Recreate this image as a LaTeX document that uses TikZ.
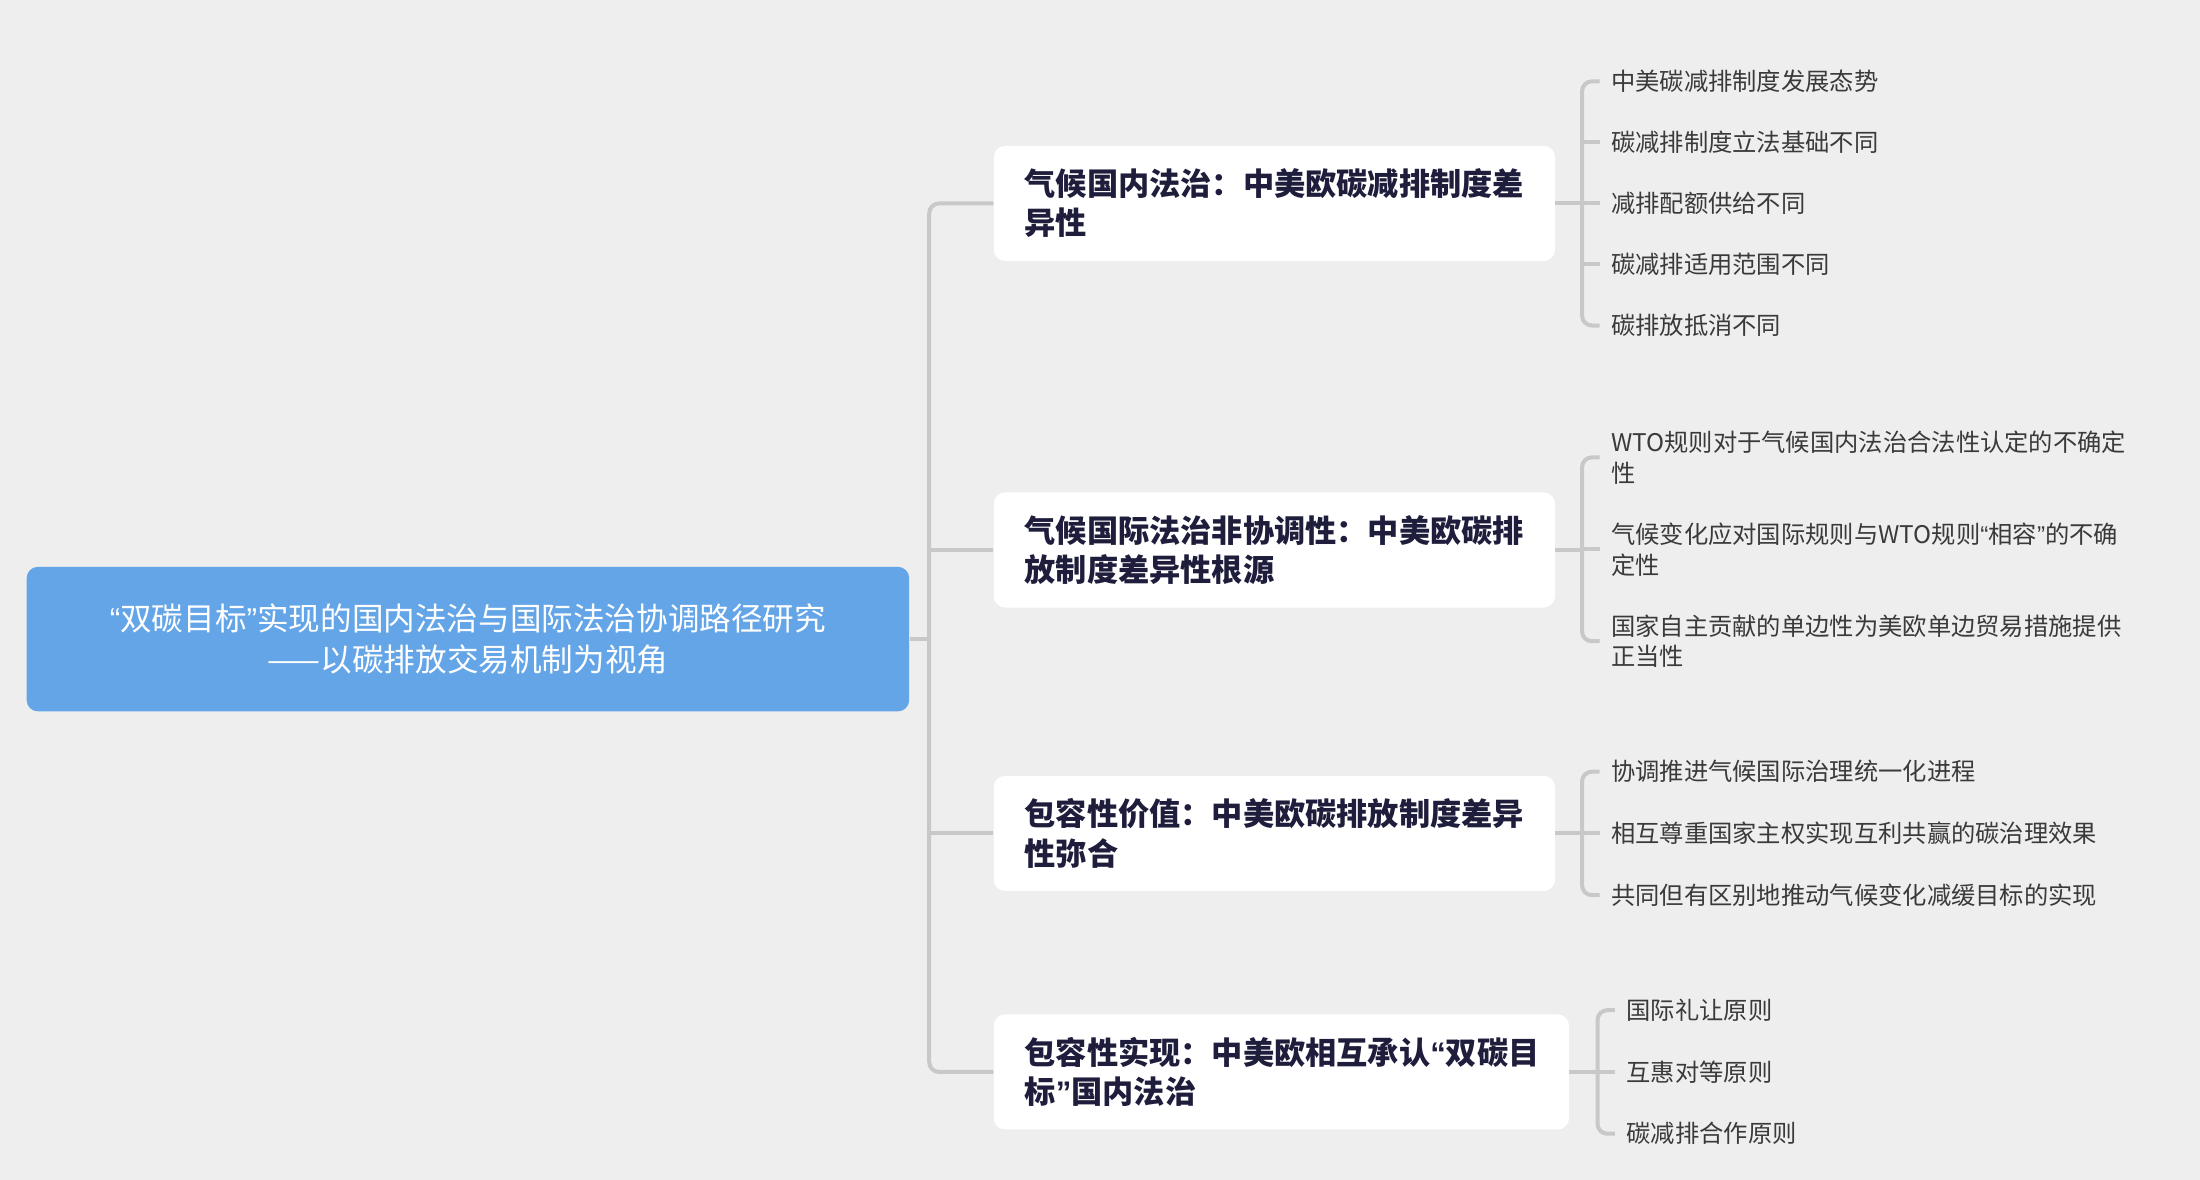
\documentclass[tikz,border=0pt]{standalone}
\usepackage{fontspec}
\setmainfont{Noto Sans CJK SC}
\newfontfamily\latin{Liberation Sans}
\usetikzlibrary{positioning}
\newdimen\pxu \pxu=0.7015pt
\definecolor{bggray}{HTML}{EEEEEE}
\definecolor{rootblue}{HTML}{64A5E8}
\definecolor{linegray}{HTML}{C8C8C8}
\definecolor{navytext}{HTML}{1E1E3C}
\definecolor{leaftext}{HTML}{3A3A3A}

\begin{document}
\begin{tikzpicture}[x=\pxu, y=-\pxu,
	rootbox/.style={fill=rootblue, rounded corners=8\pxu, text=white, align=center,
		minimum width=629\pxu, minimum height=103\pxu, font=\fontsize{15.8}{20.3}\selectfont},
	branchbox/.style={fill=white, rounded corners=8\pxu, text=navytext, align=left, anchor=west,
		inner xsep=22\pxu, minimum height=82\pxu, font=\fontsize{15.6}{19.6}\selectfont\bfseries},
	leaf/.style={anchor=west, align=left, text=leaftext, inner xsep=8\pxu, inner ysep=0pt,
		font=\fontsize{12.15}{15.4}\selectfont},
	link/.style={draw=linegray, line width=2pt, rounded corners=7\pxu}]
				\useasboundingbox [fill=bggray] (0,0) rectangle (1568,841);
				% root
				\node [rootbox] (root) at (333.5,455.5) {{\latin “}双碳目标{\latin ”}实现的国内法治与国际法治协调路径研究\\——以碳排放交易机制为视角};
				% branches
				\node [branchbox, text width=356\pxu] (b1) at (708,145) {气候国内法治：中美欧碳减排制度差\\异性};
				\node [branchbox, text width=356\pxu] (b2) at (708,392) {气候国际法治非协调性：中美欧碳排\\放制度差异性根源};
				\node [branchbox, text width=356\pxu] (b3) at (708,594) {包容性价值：中美欧碳排放制度差异\\性弥合};
				\node [branchbox, text width=366\pxu] (b4) at (708,764) {包容性实现：中美欧相互承认{\latin “}双碳目\\标{\latin ”}国内法治};
				% leaves
				\node [leaf] (l11) at (1140,58) {中美碳减排制度发展态势};
				\node [leaf] (l12) at (1140,101.5) {碳减排制度立法基础不同};
				\node [leaf] (l13) at (1140,145) {减排配额供给不同};
				\node [leaf] (l14) at (1140,188.5) {碳减排适用范围不同};
				\node [leaf] (l15) at (1140,232) {碳排放抵消不同};
				\node [leaf] (l21) at (1140,326) {WTO规则对于气候国内法治合法性认定的不确定\\性};
				\node [leaf] (l22) at (1140,391.5) {气候变化应对国际规则与WTO规则{\latin “}相容{\latin ”}的不确\\定性};
				\node [leaf] (l23) at (1140,457) {国家自主贡献的单边性为美欧单边贸易措施提供\\正当性};
				\node [leaf] (l31) at (1140,550) {协调推进气候国际治理统一化进程};
				\node [leaf] (l32) at (1140,594) {相互尊重国家主权实现互利共赢的碳治理效果};
				\node [leaf] (l33) at (1140,638) {共同但有区别地推动气候变化减缓目标的实现};
				\node [leaf] (l41) at (1151,720) {国际礼让原则};
				\node [leaf] (l42) at (1151,764) {互惠对等原则};
				\node [leaf] (l43) at (1151,808) {碳减排合作原则};
				% trunk
				\coordinate [right=14\pxu of root] (trunk);
				\draw [link] (root.east) -- (trunk);
				\draw [link] (b1.west) -| (trunk) |- (b4.west);
				\draw [link] (trunk |- b2.west) -- (b2.west);
				\draw [link] (trunk |- b3.west) -- (b3.west);
				% forks
				\coordinate [right=19\pxu of b1] (f1);
				\coordinate [right=19\pxu of b2] (f2);
				\coordinate [right=19\pxu of b3] (f3);
				\coordinate [right=20\pxu of b4] (f4);
				\draw [link] (b1.east) -- (f1);
				\draw [link] (l11.west) -| (f1) |- (l15.west);
				\foreach \i in {2,3,4}
					\draw [link] (f1 |- l1\i.west) -- (l1\i.west);
				\draw [link] (b2.east) -- (f2);
				\draw [link] (l21.west) -| (f2) |- (l23.west);
				\draw [link] (f2 |- l22.west) -- (l22.west);
				\draw [link] (b3.east) -- (f3);
				\draw [link] (l31.west) -| (f3) |- (l33.west);
				\draw [link] (f3 |- l32.west) -- (l32.west);
				\draw [link] (b4.east) -- (f4);
				\draw [link] (l41.west) -| (f4) |- (l43.west);
				\draw [link] (f4 |- l42.west) -- (l42.west);
			\end{tikzpicture}
\end{document}
